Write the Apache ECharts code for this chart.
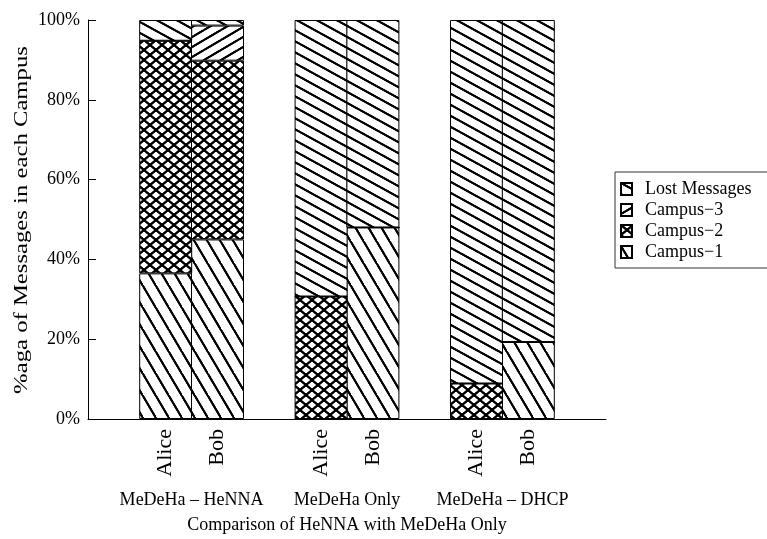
<!DOCTYPE html>
<html>
<head>
<meta charset="utf-8">
<script src="https://cdn.jsdelivr.net/npm/echarts@6/dist/echarts.min.js"></script>
<style>
html,body{margin:0;padding:0;background:#fff;}
#chart{width:767px;height:539px;}
</style>
</head>
<body>
<div id="chart"></div>
<script>
// ---- data ----
const categories = ['', 'Alice', 'Bob', '', 'Alice', 'Bob', '', 'Alice', 'Bob', ''];
const groups = ['MeDeHa \u2013 HeNNA', 'MeDeHa Only', 'MeDeHa \u2013 DHCP'];
const campus1 = [null, 36.5, 45.0, null, 0, 48.0, null, 0, 19.3, null];
const campus2 = [null, 58.3, 44.8, null, 30.7, 0, null, 8.9, 0, null];
const campus3 = [null, 0, 8.8, null, 0, 0, null, 0, 0, null];
const lost    = [null, 5.2, 1.4, null, 69.3, 52.0, null, 91.1, 80.7, null];
const seriesNames = ['Campus\u22121', 'Campus\u22122', 'Campus\u22123', 'Lost Messages'];
const legendOrder = ['Lost Messages', 'Campus\u22123', 'Campus\u22122', 'Campus\u22121'];
const yTitle = '%aga of Messages in each Campus';
const xTitle = 'Comparison of HeNNA with MeDeHa Only';

// ---- hatch patterns ----
function hatch(w, h, dirs, lw) {
  const c = document.createElement('canvas');
  c.width = w; c.height = h;
  const ctx = c.getContext('2d');
  ctx.fillStyle = '#fff';
  ctx.fillRect(0, 0, w, h);
  ctx.strokeStyle = '#000';
  ctx.lineWidth = lw;
  ctx.lineCap = 'butt';
  dirs.forEach(function (d) {
    for (let sx = -1; sx <= 1; sx++) {
      for (let sy = -1; sy <= 1; sy++) {
        const ox = sx * w, oy = sy * h;
        ctx.beginPath();
        if (d === '\\') {
          ctx.moveTo(ox - w, oy - h); ctx.lineTo(ox + 2 * w, oy + 2 * h);
        } else {
          ctx.moveTo(ox - w, oy + 2 * h); ctx.lineTo(ox + 2 * w, oy - h);
        }
        ctx.stroke();
      }
    }
  });
  return { image: c, repeat: 'repeat' };
}
const patterns = [
  hatch(13, 22, ['\\'], 1.8),        // Campus-1 steep
  hatch(12, 10, ['\\', '/'], 1.8),   // Campus-2 crosshatch
  hatch(17, 10, ['/'], 1.8),         // Campus-3
  hatch(20, 11, ['\\'], 1.8)         // Lost
];
const values = [campus1, campus2, campus3, lost];

const FONT = 'Liberation Serif';
const chart = echarts.init(document.getElementById('chart'));
chart.setOption({
  animation: false,
  backgroundColor: '#fff',
  grid: { left: 88, top: 20, right: 161, bottom: 119 },
  legend: {
    orient: 'vertical',
    left: 615, top: 172,
    data: legendOrder,
    borderColor: '#333', borderWidth: 1,
    padding: [8, 18, 7, 5],
    itemWidth: 11, itemHeight: 12, itemGap: 3,
    icon: 'rect',
    textStyle: { fontFamily: FONT, fontSize: 18, color: '#000', lineHeight: 18, padding: [0, 0, 0, 8] }
  },
  xAxis: [{
    type: 'category',
    data: categories,
    axisLine: { lineStyle: { color: '#000', width: 1 } },
    axisTick: { show: false },
    axisLabel: { rotate: 90, interval: 0, margin: 10, fontFamily: FONT, fontSize: 22, color: '#000' }
  }, {
    type: 'value',
    position: 'bottom',
    min: 0, max: categories.length, interval: 1,
    axisLine: { show: false }, axisTick: { show: false }, splitLine: { show: false },
    axisLabel: {
      margin: 72, fontFamily: FONT, fontSize: 18, color: '#000',
      formatter: function (v) {
        const i = (v - 2) / 3;
        return (Number.isInteger(i) && i >= 0 && i < groups.length) ? groups[i] : '';
      }
    },
    name: xTitle, nameLocation: 'middle', nameGap: 97,
    nameTextStyle: { fontFamily: FONT, fontSize: 18, color: '#000' }
  }],
  yAxis: {
    type: 'value', min: 0, max: 100, interval: 20,
    axisLine: { show: true, lineStyle: { color: '#000', width: 1 } },
    axisTick: { show: true, inside: true, length: 8, lineStyle: { color: '#000' } },
    splitLine: { show: false },
    axisLabel: { formatter: '{value}%', margin: 8, fontFamily: FONT, fontSize: 18, color: '#000' }
  },
  graphic: [{
    type: 'text',
    x: 22, y: 220,
    rotation: Math.PI / 2,
    scaleX: 1.3,
    style: { text: yTitle, font: '19px "Liberation Serif"', fill: '#000', align: 'center', verticalAlign: 'middle' }
  }],
  series: seriesNames.map(function (name, k) {
    return {
      name: name, type: 'bar', stack: 'all', barWidth: 53,
      xAxisIndex: 0,
      data: values[k],
      itemStyle: { color: patterns[k], borderColor: '#000', borderWidth: 1 }
    };
  })
});
</script>
</body>
</html>
